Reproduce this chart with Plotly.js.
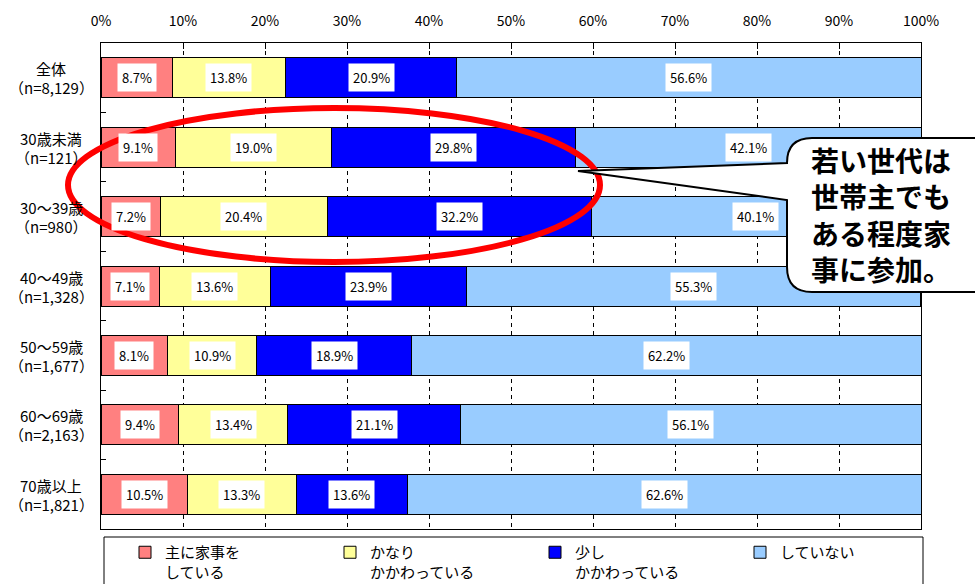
<!DOCTYPE html>
<html><head><meta charset="utf-8">
<script src="https://cdn.plot.ly/plotly-3.0.1.min.js"></script>
<style>html,body{margin:0;padding:0;background:#fff}#chart{width:975px;height:584px}</style>
</head><body><div id="chart"></div>
<script>
const categories = ['全体','30歳未満','30～39歳','40～49歳','50～59歳','60～69歳','70歳以上'];
const nLabels = ['（n=8,129）','（n=121）','（n=980）','（n=1,328）','（n=1,677）','（n=2,163）','（n=1,821）'];
const seriesNames = ['主に家事を<br>している','かなり<br>かかわっている','少し<br>かかわっている','していない'];
const mainly = [8.7, 9.1, 7.2, 7.1, 8.1, 9.4, 10.5];
const quite  = [13.8, 19.0, 20.4, 13.6, 10.9, 13.4, 13.3];
const little = [20.9, 29.8, 32.2, 23.9, 18.9, 21.1, 13.6];
const none   = [56.6, 42.1, 40.1, 55.3, 62.2, 56.1, 62.6];
const tickVals = [0,10,20,30,40,50,60,70,80,90,100];
const tickText = ['0%','10%','20%','30%','40%','50%','60%','70%','80%','90%','100%'];
const calloutText = '若い世代は<br>世帯主でも<br>ある程度家<br>事に参加。';

const colors = ['#FF8080','#FFFF99','#0000FF','#99CCFF'];
const series = [mainly, quite, little, none];
const FONT = '"Noto Sans CJK JP", "Noto Sans", sans-serif';

const traces = series.map((vals, i) => ({
  type: 'bar', orientation: 'h', x: vals, y: categories, name: seriesNames[i],
  marker: {color: colors[i], line: {color: '#000', width: 1}},
  hoverinfo: 'skip'
}));

// plot area in pixels
const L = 101, R = 54, T = 43, B = 55, W = 975, H = 584;
const PW = W - L - R, PH = H - T - B;
const px = x => (x - L) / PW;
const py = y => 1 - (y - T) / PH;

const annotations = [];
categories.forEach((c, j) => {
  let cum = 0;
  series.forEach(vals => {
    const v = vals[j];
    annotations.push({x: cum + v/2, y: c, xref: 'x', yref: 'y', text: v.toFixed(1) + '%',
      showarrow: false, bgcolor: '#fff', borderpad: 4,
      font: {family: FONT, size: 13, color: '#000'}});
    cum += v;
  });
  annotations.push({x: px(51), y: c, xref: 'paper', yref: 'y', text: c, yshift: 9,
    showarrow: false, xanchor: 'center', align: 'center',
    font: {family: FONT, size: 15, color: '#000'}});
  annotations.push({x: px(51), y: c, xref: 'paper', yref: 'y', text: nLabels[j], yshift: -10,
    showarrow: false, xanchor: 'center', align: 'center',
    font: {family: FONT, size: 15, color: '#000'}});
});
annotations.push({x: px(809), y: py(214), xref: 'paper', yref: 'paper', text: calloutText,
  showarrow: false, xanchor: 'left', yanchor: 'middle', align: 'left',
  font: {family: FONT, size: 28, color: '#000', weight: 'bold'}});

const p = (x, y) => px(x) + ',' + py(y);
const calloutPath = 'M ' + p(787,163) +
  ' Q ' + p(787,138) + ' ' + p(812,138) +
  ' L ' + p(990,138) + ' L ' + p(990,292) + ' L ' + p(812,292) +
  ' Q ' + p(787,292) + ' ' + p(787,267) + ' L ' + p(787,200) +
  ' L ' + p(578,171) + ' Z';

const shapes = [
  {type: 'circle', xref: 'paper', yref: 'paper', x0: px(68), x1: px(600), y0: py(108), y1: py(262),
   line: {color: '#FF0000', width: 6}},
  {type: 'path', xref: 'paper', yref: 'paper', path: calloutPath,
   fillcolor: '#fff', line: {color: '#000', width: 2}},
  {type: 'rect', xref: 'paper', yref: 'paper', x0: px(104), x1: px(923), y0: py(537), y1: py(595),
   line: {color: '#000', width: 1}, fillcolor: 'rgba(0,0,0,0)'}
];

const layout = {
  width: W, height: H, margin: {l: L, r: R, t: T, b: B},
  paper_bgcolor: '#fff', plot_bgcolor: '#fff',
  barmode: 'stack', bargap: 0.424, showlegend: true,
  font: {family: FONT, color: '#000'},
  xaxis: {side: 'top', range: [0, 100], tickvals: tickVals, ticktext: tickText,
    ticks: 'inside', ticklen: 6, tickcolor: '#000', ticklabelstandoff: 10,
    showgrid: true, gridcolor: '#000', gridwidth: 1, griddash: '4px,4px',
    showline: true, linecolor: '#000', linewidth: 1, mirror: true, zeroline: false,
    tickfont: {family: FONT, size: 14, color: '#000'}, fixedrange: true},
  yaxis: {type: 'category', categoryorder: 'array', categoryarray: categories,
    range: [6.5, -0.5], showticklabels: false, ticks: 'inside', ticklen: 5, tickcolor: '#000',
    tickson: 'boundaries', showgrid: false, showline: true, linecolor: '#000', linewidth: 1,
    mirror: true, zeroline: false, fixedrange: true},
  legend: {orientation: 'h', xref: 'container', x: 125/975, xanchor: 'left',
    yref: 'container', y: 1 - 536/584,
    yanchor: 'top', valign: 'top', entrywidth: 160, entrywidthmode: 'pixels',
    traceorder: 'normal', bgcolor: 'rgba(0,0,0,0)', borderwidth: 0,
    font: {family: FONT, size: 15, color: '#000'}},
  annotations: annotations, shapes: shapes
};

Plotly.newPlot('chart', traces, layout, {displayModeBar: false, staticPlot: true});
</script></body></html>
